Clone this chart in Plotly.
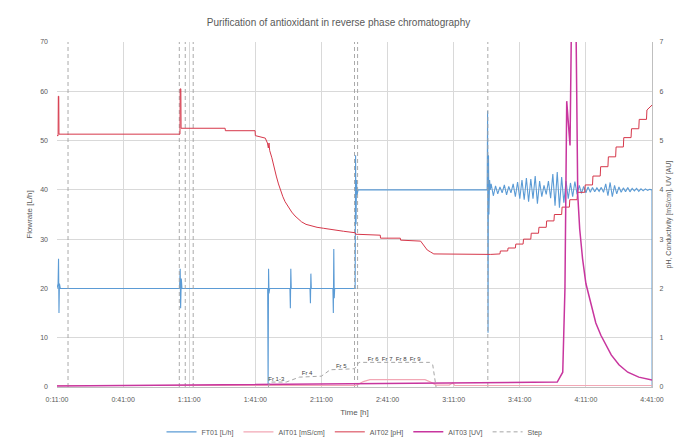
import plotly.graph_objects as go

# ---------------- data ----------------
tick_minutes = [11, 41, 71, 101, 131, 161, 191, 221, 251, 281]
tick_labels = ["0:11:00", "0:41:00", "1:11:00", "1:41:00", "2:11:00",
               "2:41:00", "3:11:00", "3:41:00", "4:11:00", "4:41:00"]

# FT01 flow [L/h] (left axis)
ft01_t = [11.0, 11.5, 11.7, 11.9, 12.1, 12.5, 66.6, 66.9, 67.1, 67.4, 67.7,
          106.6, 106.8, 107.0, 107.2, 107.5, 116.7, 116.9, 117.1, 117.3,
          125.8, 126.0, 126.2, 126.4, 136.2, 136.4, 136.6, 136.8, 137.0,
          146.3, 146.5, 146.7, 146.9, 147.2, 147.6, 206.2, 206.4, 206.6,
          206.8, 207.0, 207.3, 207.6,
          208, 209, 210, 211, 212, 213, 214, 215, 216, 217, 218, 219, 220,
          221, 222, 223, 224, 225, 226, 227, 228, 229, 230, 231, 232, 233,
          234, 235, 236, 237, 238, 239, 240, 241, 242, 243, 244, 245, 246,
          247, 248, 249, 250, 251, 252, 253, 254, 255, 256, 257, 258, 259,
          260, 261, 262, 263, 264, 265, 266, 267, 268, 269, 270, 271, 272,
          273, 274, 275, 276, 277, 278, 279, 280, 281, 281.05]
ft01_v = [20, 21, 26, 15, 21, 20, 20, 24, 16, 22, 20,
          20, 0.5, 24, 19, 20, 20, 16, 24, 20,
          20, 17, 23, 20, 20, 15, 28, 18, 20,
          20, 47, 33, 42, 39, 40, 40, 56, 11,
          47, 35, 42, 40,
          41.2, 38.8, 40.8, 39.2, 40.6, 39.4, 41.0, 39.0, 40.7, 39.4, 41.2, 38.6, 41.6,
          38.2, 42.0, 38.0, 42.4, 37.6, 42.2, 38.2, 42.8, 37.2, 41.8, 38.6, 40.9, 39.1,
          41.8, 38.3, 43.2, 36.8, 43.6, 36.4, 42.6, 37.4, 41.8, 38.2, 41.4, 38.6, 41.7,
          39.1, 40.9, 39.3, 40.7, 39.4, 40.6, 39.5, 40.5, 39.6, 40.4, 39.7, 40.5, 39.5,
          41.2, 38.8, 41.5, 38.6, 40.9, 39.2, 40.6, 39.5, 40.4, 39.6, 40.5, 39.6, 40.3,
          39.8, 40.3, 39.7, 40.2, 39.8, 40.2, 39.9, 40.1, 40.0, 0]

# AIT01 (right axis)
ait01_t = [11.0, 146.5, 148.0, 150.0, 153.0, 178.0, 180.5, 183.0, 189.0, 190.5, 191.5, 193.0, 281.0]
ait01_v = [0.03, 0.03, 0.06, 0.11, 0.15, 0.15, 0.1, 0.04, 0.04, 0.08, 0.03, 0.03, 0.03]

# AIT02 (right axis)
ait02_t = [11.0, 11.5, 11.6, 11.8, 11.9, 66.8, 66.9, 67.2, 67.3, 87.3, 87.4, 100.9,
           101.0, 105.5, 106.5, 106.9, 107.2, 107.5, 108.5, 109.5, 110.5, 111.5,
           112.5, 113.5, 114.5, 116.0, 117.5, 119.0, 120.5, 122.0, 124.0, 126.0,
           129.0, 132.0, 136.0, 141.0, 146.3, 146.5, 157.7, 157.8, 166.8, 166.9,
           176.0, 177.5, 179.0, 180.5, 182.0, 207.8,
           212.0, 212.2, 215.5, 215.7, 219.0, 219.2, 222.5, 222.7, 226.0, 226.2,
           229.5, 229.7, 233.0, 233.2, 236.5, 236.7, 240.0, 240.2, 243.5, 243.7,
           247.0, 247.2, 250.5, 250.7, 254.0, 254.2, 257.5, 257.7, 261.0, 261.2,
           264.5, 264.7, 268.0, 268.2, 271.5, 271.7, 275.0, 275.2, 278.5, 278.7,
           281.0]
ait02_v = [5.1, 5.1, 5.9, 5.9, 5.13, 5.13, 6.05, 6.05, 5.25, 5.25, 5.2, 5.2,
           5.1, 5.05, 4.95, 4.85, 4.95, 4.8, 4.65, 4.45, 4.28, 4.12,
           3.98, 3.86, 3.76, 3.65, 3.55, 3.47, 3.4, 3.35, 3.3, 3.27,
           3.24, 3.22, 3.2, 3.16, 3.13, 3.1, 3.08, 3.02, 3.02, 2.98,
           2.96, 2.86, 2.78, 2.74, 2.7, 2.69,
           2.70, 2.76, 2.76, 2.82, 2.82, 2.90, 2.90, 3.00, 3.00, 3.12,
           3.12, 3.24, 3.24, 3.37, 3.37, 3.50, 3.50, 3.65, 3.65, 3.80,
           3.80, 3.95, 3.95, 4.10, 4.10, 4.28, 4.28, 4.47, 4.47, 4.67,
           4.67, 4.87, 4.87, 5.06, 5.06, 5.24, 5.24, 5.43, 5.43, 5.62,
           5.72]

# AIT03 UV (right axis)
ait03_t = [11.0, 238.0, 240.5, 241.5, 242.3, 243.2, 243.8, 244.6, 245.0, 245.5,
           246.0, 246.6, 247.3, 248.2, 249.5, 251.0, 253.3, 255.5, 257.8, 260.0,
           262.5, 266.0, 270.0, 275.0, 281.0]
ait03_v = [0.02, 0.1, 0.3, 2.0, 5.8, 5.2, 4.9, 8.0, 9.5, 9.0,
           9.6, 7.0, 3.9, 3.2, 2.6, 2.1, 1.7, 1.3, 1.05, 0.85,
           0.65, 0.45, 0.3, 0.2, 0.14]

# Step (right axis)
step_t = [106.9, 107.5, 115.0, 121.0, 131.0, 135.0, 146.0, 148.0, 180.0, 181.5, 183.0]
step_v = [0.0, 0.1, 0.1, 0.2, 0.22, 0.35, 0.37, 0.5, 0.5, 0.45, 0.0]
step_label_t = [110.5, 124.5, 140.0, 164.0]
step_label_v = [0.1, 0.21, 0.36, 0.5]
step_labels = ["Fr 1-3", "Fr 4", "Fr 5", "Fr 6  Fr 7  Fr 8  Fr 9"]

# Event markers (vertical dashed lines)
event_t = [16.0, 66.5, 69.2, 72.8, 146.0, 147.4, 206.5]

# ---------------- figure ----------------
grey = "#595959"
fig = go.Figure()

fig.add_trace(go.Scatter(x=ft01_t, y=ft01_v, name="FT01 [L/h]", mode="lines",
                         line=dict(color="#5B9BD5", width=1.1)))
fig.add_trace(go.Scatter(x=ait01_t, y=ait01_v, name="AIT01 [mS/cm]", mode="lines",
                         yaxis="y2", line=dict(color="#F2A7B5", width=1.2)))
fig.add_trace(go.Scatter(x=ait02_t, y=ait02_v, name="AIT02 [pH]", mode="lines",
                         yaxis="y2", line=dict(color="#D6374A", width=1.0)))
fig.add_trace(go.Scatter(x=ait03_t, y=ait03_v, name="AIT03 [UV]", mode="lines",
                         yaxis="y2", line=dict(color="#C8359E", width=1.5)))
fig.add_trace(go.Scatter(x=step_t, y=step_v, name="Step", mode="lines",
                         yaxis="y2", legendgroup="step",
                         line=dict(color="#A6A6A6", width=1, dash="4px,3px")))

ev_x, ev_y = [], []
for t in event_t:
    ev_x += [t, t, None]
    ev_y += [0, 70, None]
fig.add_trace(go.Scatter(x=ev_x, y=ev_y, mode="lines", showlegend=False,
                         legendgroup="step",
                         line=dict(color="#A0A0A0", width=0.9, dash="4px,3px")))
fig.add_trace(go.Scatter(x=step_label_t, y=step_label_v, mode="text", yaxis="y2",
                         text=step_labels, textposition="top center", showlegend=False,
                         textfont=dict(size=6, color="#404040")))

fig.update_layout(
    template="none",
    width=677, height=444,
    margin=dict(l=57, r=25, t=42, b=57, autoexpand=False),
    paper_bgcolor="white", plot_bgcolor="white",
    font=dict(family="Liberation Sans, Arial, sans-serif", size=8, color=grey),
    title=dict(text="Purification of antioxidant in reverse phase chromatography",
               x=0.5, xanchor="center", y=0.95, yanchor="middle",
               font=dict(size=10, color=grey)),
    xaxis=dict(range=[11, 281], tickvals=tick_minutes, ticktext=tick_labels,
               automargin=False,
               showgrid=True, gridcolor="#D9D9D9", gridwidth=1,
               zeroline=False, showline=True, linecolor="#BFBFBF",
               tickfont=dict(size=7), ticks="", ticklabelstandoff=6,
               title=dict(text="Time [h]", font=dict(size=8), standoff=6)),
    yaxis=dict(range=[0, 70], dtick=10, showgrid=True, gridcolor="#D9D9D9",
               automargin=False,
               zeroline=False, showline=False, tickfont=dict(size=7), ticks="",
               ticklabelstandoff=8,
               title=dict(text="Flowrate [L/h]", font=dict(size=8), standoff=6)),
    yaxis2=dict(range=[0, 7], dtick=1, overlaying="y", side="right",
                automargin=False,
                showgrid=False, zeroline=False, showline=True, linecolor="#BFBFBF",
                tickfont=dict(size=7), ticks="", ticklabelstandoff=5),
    legend=dict(orientation="h", x=0.5, xanchor="center", y=-0.13, yanchor="middle",
                font=dict(size=7), bgcolor="rgba(0,0,0,0)"),
    annotations=[dict(text="pH, Conductivity [mS/cm], UV [AU]", xref="paper",
                      yref="paper", x=1, y=0.5, xshift=22, textangle=-90,
                      showarrow=False, font=dict(size=7, color=grey))],
)

fig.write_html("out.html", config={"displayModeBar": False},
               post_script="document.body.style.margin='0px';"
                           "document.body.style.padding='0px';")
